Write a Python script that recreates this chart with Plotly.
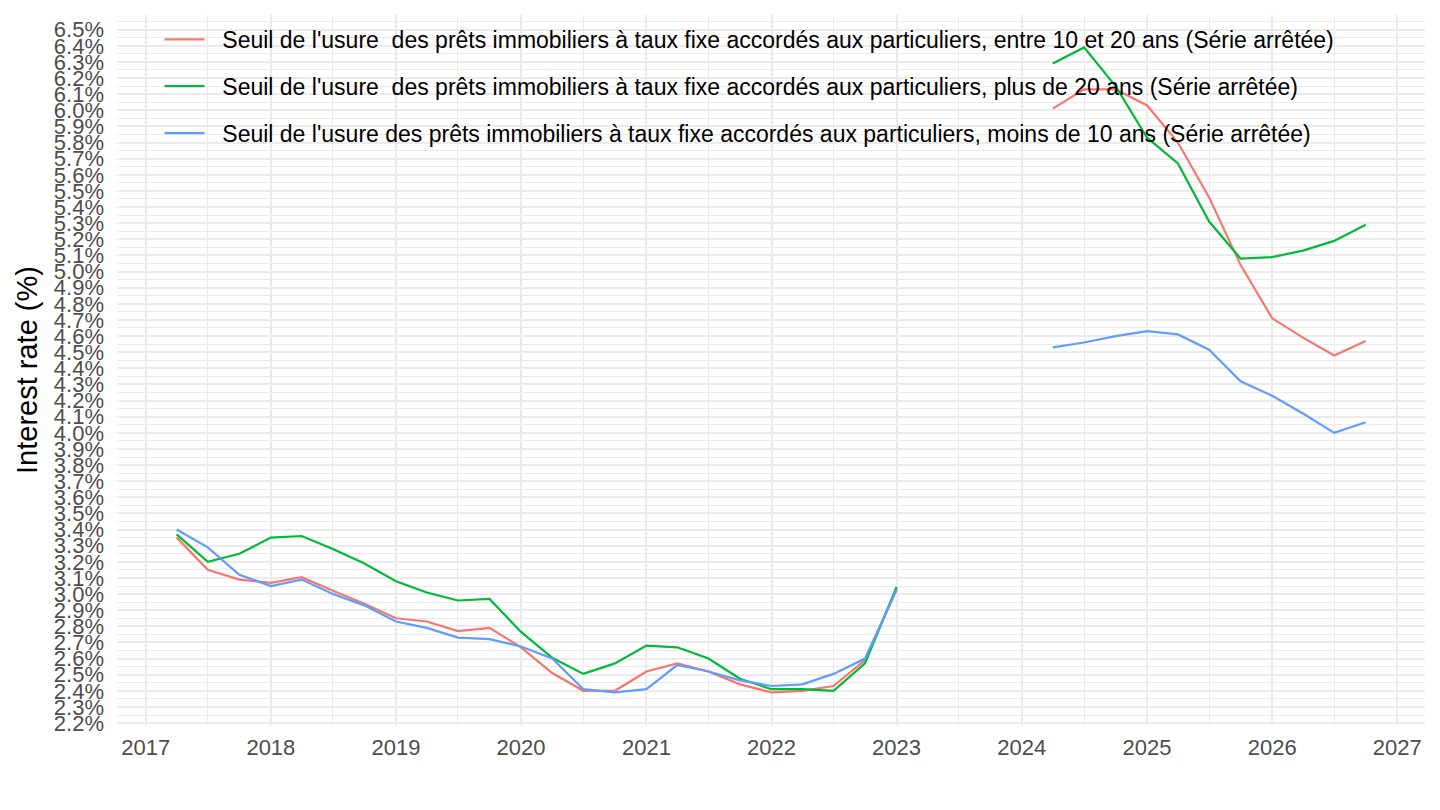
import plotly.graph_objects as go

"""
Seuils de l'usure, prets immobiliers a taux fixe (series arretees).
Quarterly values, None = no observation (gap in the line).
"""
dates = ['2017-04-01', '2017-07-01', '2017-10-01',
         '2018-01-01', '2018-04-01', '2018-07-01', '2018-10-01',
         '2019-01-01', '2019-04-01', '2019-07-01', '2019-10-01',
         '2020-01-01', '2020-04-01', '2020-07-01', '2020-10-01',
         '2021-01-01', '2021-04-01', '2021-07-01', '2021-10-01',
         '2022-01-01', '2022-04-01', '2022-07-01', '2022-10-01',
         '2023-01-01', '2023-04-01', '2023-07-01', '2023-10-01',
         '2024-01-01', '2024-04-01', '2024-07-01', '2024-10-01',
         '2025-01-01', '2025-04-01', '2025-07-01', '2025-10-01',
         '2026-01-01', '2026-04-01', '2026-07-01', '2026-10-01']

entre_10_20 = [3.35, 3.15, 3.09, 3.07, 3.105, 3.02, 2.94,
               2.85, 2.83, 2.77, 2.79, 2.67, 2.51, 2.40, 2.40,
               2.52, 2.57, 2.52, 2.44, 2.39, 2.40, 2.43, 2.59,
               3.03, None, None, None, None,
               6.01, 6.13, 6.13, 6.03, 5.80, 5.46, 5.04,
               4.71, 4.59, 4.48, 4.57]

plus_20 = [3.37, 3.20, 3.25, 3.35, 3.36, 3.28, 3.19,
           3.08, 3.01, 2.96, 2.97, 2.765, 2.605, 2.505, 2.57,
           2.68, 2.67, 2.60, 2.475, 2.41, 2.41, 2.40, 2.57,
           3.045, None, None, None, None,
           6.29, 6.39, 6.15, 5.83, 5.67, 5.31, 5.08,
           5.09, 5.13, 5.19, 5.29]

moins_10 = [3.40, 3.29, 3.12, 3.05, 3.09, 3.00, 2.93,
            2.83, 2.79, 2.73, 2.72, 2.675, 2.60, 2.41, 2.39,
            2.41, 2.56, 2.52, 2.465, 2.43, 2.44, 2.505, 2.60,
            3.025, None, None, None, None,
            4.53, 4.56, 4.60, 4.63, 4.61, 4.515, 4.32,
            4.23, 4.12, 4.00, 4.065]

names = ["Seuil de l'usure  des prêts immobiliers à taux fixe accordés aux particuliers, entre 10 et 20 ans (Série arrêtée)",
         "Seuil de l'usure  des prêts immobiliers à taux fixe accordés aux particuliers, plus de 20 ans (Série arrêtée)",
         "Seuil de l'usure des prêts immobiliers à taux fixe accordés aux particuliers, moins de 10 ans (Série arrêtée)"]
colors = ['#F8766D', '#00BA38', '#619CFF']

ytick_vals = [round(2.2 + 0.1 * i, 1) for i in range(44)]
ytick_text = ['%.1f%%' % v for v in ytick_vals]

FONT = 'Liberation Sans, Arial, sans-serif'

fig = go.Figure()
for i, serie in enumerate([entre_10_20, plus_20, moins_10]):
    # two no-break spaces widen the gap between the key and its label
    fig.add_trace(go.Scatter(x=dates, y=serie, name='\u00a0\u00a0' + names[i], mode='lines',
                             legendgroup=str(i),
                             line=dict(color=colors[i], width=2.2)))

# page body keeps its 8px margin, so the figure is 16px smaller than the window
fig.update_layout(width=1424, height=794,
                  paper_bgcolor='white', plot_bgcolor='white',
                  margin=dict(l=109, r=7, t=7, b=77, autoexpand=False),
                  font=dict(family=FONT, color='#4D4D4D'),
                  legend=dict(x=0.0325, y=0.996, xanchor='left', yanchor='top',
                              bgcolor='rgba(0,0,0,0)', tracegroupgap=14,
                              itemwidth=40,
                              font=dict(family=FONT, size=23, color='black')))

fig.update_xaxes(type='date', range=['2016-10-09', '2027-03-23'],
                 dtick='M12', tick0='2017-01-01', tickformat='%Y',
                 showgrid=True, gridcolor='#EBEBEB', gridwidth=2,
                 minor=dict(dtick='M6', showgrid=True, gridcolor='#EBEBEB', gridwidth=1),
                 zeroline=False, showline=False, ticks='', automargin=False,
                 ticklabelstandoff=7,
                 tickfont=dict(family=FONT, size=22, color='#4D4D4D'))

fig.update_yaxes(range=[2.188, 6.591], tickmode='array',
                 tickvals=ytick_vals, ticktext=ytick_text,
                 showgrid=True, gridcolor='#EBEBEB', gridwidth=2,
                 minor=dict(tickmode='linear', tick0=2.15, dtick=0.1,
                            showgrid=True, gridcolor='#EBEBEB', gridwidth=1),
                 zeroline=False, showline=False, ticks='', automargin=False,
                 ticklabelstandoff=12,
                 tickfont=dict(family=FONT, size=22, color='#4D4D4D'),
                 title=dict(text='Interest rate (%)', standoff=7,
                            font=dict(family=FONT, size=29, color='black')))

fig.write_html("out.html")
